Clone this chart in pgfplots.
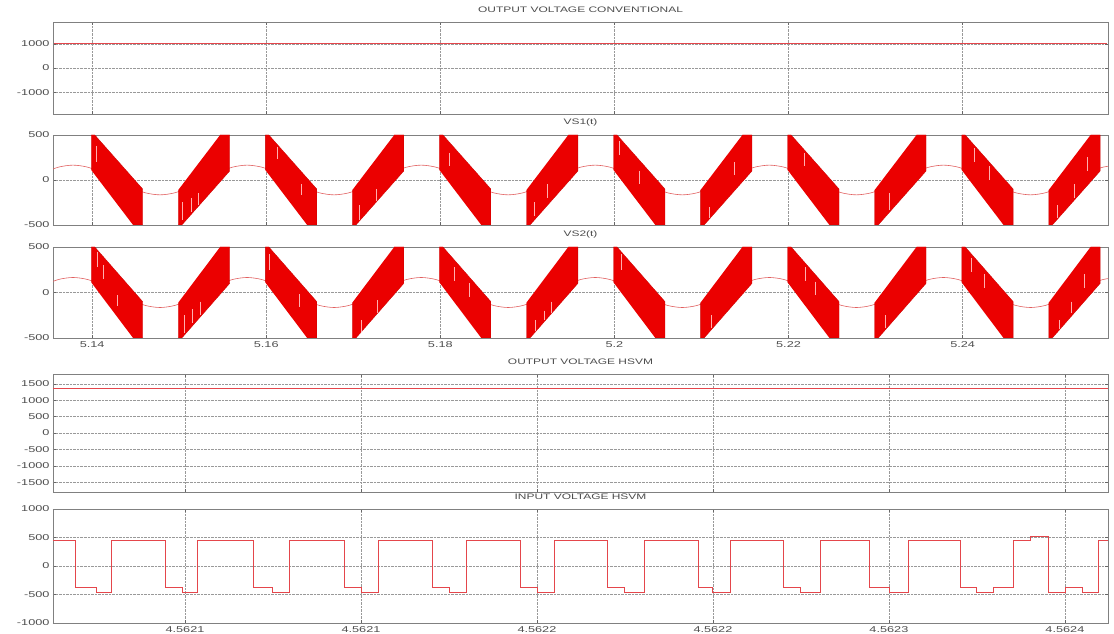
\documentclass[border=0pt]{standalone}
\usepackage{fontspec}
\setmainfont{Liberation Sans}[FakeStretch=1.5]
\usepackage{pgfplots}
\usepackage{pgfplotstable}
\pgfplotsset{compat=1.18}

\definecolor{bandred}{RGB}{235,0,0}
\definecolor{sinered}{RGB}{225,95,95}
\definecolor{linered}{RGB}{228,70,75}
\definecolor{streak}{RGB}{255,175,175}

% sinusoid reference (amplitude ~165, period 0.02 s)
\pgfplotstableread{
t v
5.13447 82.5
5.13613 142.9
5.13780 165
5.13947 142.9
5.14113 82.5
5.14280 0
5.14447 -82.5
5.14613 -142.9
5.14780 -165
5.14947 -142.9
5.15113 -82.5
5.15280 0
5.15447 82.5
5.15613 142.9
5.15780 165
5.15947 142.9
5.16113 82.5
5.16280 0
5.16447 -82.5
5.16613 -142.9
5.16780 -165
5.16947 -142.9
5.17113 -82.5
5.17280 0
5.17447 82.5
5.17613 142.9
5.17780 165
5.17947 142.9
5.18113 82.5
5.18280 0
5.18447 -82.5
5.18613 -142.9
5.18780 -165
5.18947 -142.9
5.19113 -82.5
5.19280 0
5.19447 82.5
5.19613 142.9
5.19780 165
5.19947 142.9
5.20113 82.5
5.20280 0
5.20447 -82.5
5.20613 -142.9
5.20780 -165
5.20947 -142.9
5.21113 -82.5
5.21280 0
5.21447 82.5
5.21613 142.9
5.21780 165
5.21947 142.9
5.22113 82.5
5.22280 0
5.22447 -82.5
5.22613 -142.9
5.22780 -165
5.22947 -142.9
5.23113 -82.5
5.23280 0
5.23447 82.5
5.23613 142.9
5.23780 165
5.23947 142.9
5.24113 82.5
5.24280 0
5.24447 -82.5
5.24613 -142.9
5.24780 -165
5.24947 -142.9
5.25113 -82.5
5.25280 0
5.25447 82.5
5.25613 142.9
5.25780 165
}\sinetab

% PWM switching bands (outline of the filled envelopes)
\pgfplotstableread{
t v
5.13990 110
5.13990 500
5.14030 500
5.14580 -100
5.14580 -500
5.14470 -500
nan nan
5.14990 -110
5.14990 -500
5.15030 -500
5.15580 100
5.15580 500
5.15470 500
nan nan
5.15990 110
5.15990 500
5.16030 500
5.16580 -100
5.16580 -500
5.16470 -500
nan nan
5.16990 -110
5.16990 -500
5.17030 -500
5.17580 100
5.17580 500
5.17470 500
nan nan
5.17990 110
5.17990 500
5.18030 500
5.18580 -100
5.18580 -500
5.18470 -500
nan nan
5.18990 -110
5.18990 -500
5.19030 -500
5.19580 100
5.19580 500
5.19470 500
nan nan
5.19990 110
5.19990 500
5.20030 500
5.20580 -100
5.20580 -500
5.20470 -500
nan nan
5.20990 -110
5.20990 -500
5.21030 -500
5.21580 100
5.21580 500
5.21470 500
nan nan
5.21990 110
5.21990 500
5.22030 500
5.22580 -100
5.22580 -500
5.22470 -500
nan nan
5.22990 -110
5.22990 -500
5.23030 -500
5.23580 100
5.23580 500
5.23470 500
nan nan
5.23990 110
5.23990 500
5.24030 500
5.24580 -100
5.24580 -500
5.24470 -500
nan nan
5.24990 -110
5.24990 -500
5.25030 -500
5.25580 100
5.25580 500
5.25470 500
}\bandtab

\pgfplotstableread{
t v
5.14046 380
5.14046 200
nan nan
5.15034 -250
5.15034 -450
nan nan
5.15138 -200
5.15138 -360
nan nan
5.15218 -150
5.15218 -280
nan nan
5.16126 370
5.16126 230
nan nan
5.16402 -50
5.16402 -170
nan nan
5.17069 -280
5.17069 -440
nan nan
5.17264 -100
5.17264 -230
nan nan
5.18103 300
5.18103 150
nan nan
5.19080 -250
5.19080 -400
nan nan
5.19230 -50
5.19230 -200
nan nan
5.20057 430
5.20057 280
nan nan
5.20287 100
5.20287 -50
nan nan
5.21092 -300
5.21092 -420
nan nan
5.21379 200
5.21379 50
nan nan
5.22184 300
5.22184 150
nan nan
5.23161 -150
5.23161 -330
nan nan
5.24138 350
5.24138 200
nan nan
5.24310 150
5.24310 0
nan nan
5.25092 -280
5.25092 -420
nan nan
5.25287 -50
5.25287 -200
nan nan
5.25437 250
5.25437 100
}\streakA

\pgfplotstableread{
t v
5.14057 440
5.14057 280
nan nan
5.14126 300
5.14126 150
nan nan
5.14287 -30
5.14287 -150
nan nan
5.15057 -250
5.15057 -440
nan nan
5.15149 -180
5.15149 -340
nan nan
5.15241 -100
5.15241 -250
nan nan
5.16034 420
5.16034 250
nan nan
5.16379 -20
5.16379 -160
nan nan
5.17092 -300
5.17092 -430
nan nan
5.17276 -80
5.17276 -230
nan nan
5.18161 280
5.18161 130
nan nan
5.18333 100
5.18333 -50
nan nan
5.19092 -300
5.19092 -420
nan nan
5.19195 -200
5.19195 -300
nan nan
5.19276 -100
5.19276 -220
nan nan
5.20080 420
5.20080 250
nan nan
5.21115 -250
5.21115 -390
nan nan
5.22195 280
5.22195 130
nan nan
5.22310 120
5.22310 -30
nan nan
5.23115 -250
5.23115 -390
nan nan
5.24103 380
5.24103 230
nan nan
5.24253 200
5.24253 50
nan nan
5.25115 -300
5.25115 -400
nan nan
5.25253 -100
5.25253 -230
nan nan
5.25402 200
5.25402 50
}\streakB

\pgfplotsset{
  base/.style={
    scale only axis, width=1055bp, anchor=south west,
    axis line style={black!50, line width=0.7pt},
    every tick/.style={black!60, line width=0.5pt},
    tick align=inside, major tick length=3bp,
    xmajorgrids, ymajorgrids,
    major grid style={densely dotted, black!40, line width=0.5pt},
    tick label style={font=\fontsize{8.5}{10}\selectfont, text=black!70},
    title style={font=\fontsize{8}{9}\selectfont, text=black!70, inner sep=1.5bp, yshift=1.5bp},
    /pgf/number format/assume math mode=true,
  },
  topx/.style={base, xmin=5.1355, xmax=5.2567,
    xtick={5.14,5.16,5.18,5.2,5.22,5.24}},
  botx/.style={base, xmin=5, xmax=364.7,
    xtick={50,110,170,230,290,350}},
}

\begin{document}
\begin{tikzpicture}
\useasboundingbox (0,0) rectangle (1114bp,634bp);
\path[draw=white, line width=0.1pt] (0,0) -- (0.1bp,0);

% 4: output voltage HSVM
\begin{axis}[botx, at={(53bp,142bp)}, height=118bp,
  ymin=-1800, ymax=1800, ytick={-1500,-1000,-500,0,500,1000,1500},
  yticklabels={-1500,-1000,-500,0,500,1000,1500},
  xticklabels={}, title={OUTPUT VOLTAGE HSVM}]
\addplot[linered, line width=0.9pt] coordinates {(5,1350) (364.7,1350)};
\end{axis}

% 5: input voltage HSVM
\begin{axis}[botx, at={(53bp,11bp)}, height=114bp,
  ymin=-1000, ymax=1000, ytick={-1000,-500,0,500,1000},
  yticklabels={-1000,-500,0,500,1000},
  xticklabels={4.5621,4.5621,4.5622,4.5622,4.5623,4.5624},
  title={INPUT VOLTAGE HSVM}]
\addplot[linered, line width=0.9pt, const plot] coordinates {
(5,450) (12.5,-380) (19.7,-460) (24.8,450) (43.2,-380) (49.0,-460)
(54.4,450) (73.5,-380) (79.7,-460) (85.5,450) (104.2,-380) (110.0,-460)
(115.8,450) (134.2,-380) (140.0,-460) (146.1,450) (164.5,-380) (170.0,-460)
(176.1,450) (193.9,-380) (199.7,-460) (206.5,450) (224.9,-380) (230.0,-460)
(236.1,450) (253.9,-380) (259.7,-460) (266.8,450) (283.5,-380) (290.3,-460)
(296.5,450) (314.5,-380) (320.0,-460) (325.5,-380) (332.3,450) (338.4,520)
(344.5,-460) (350.3,-380) (356.1,-460) (361.6,450) (364.7,450)};
\end{axis}

% 2: VS1(t)
\begin{axis}[topx, at={(53bp,409bp)}, height=90bp,
  ymin=-500, ymax=500, ytick={-500,0,500}, yticklabels={-500,0,500},
  xticklabels={}, title={VS1(t)}]
\addplot[sinered, line width=0.6pt, smooth] table {\sinetab};
\addplot[draw=bandred!85!black, fill=bandred, line width=0.3pt, unbounded coords=jump] table {\bandtab};
\addplot[streak, line width=1.1pt, unbounded coords=jump] table {\streakA};
\end{axis}

% 3: VS2(t)
\begin{axis}[topx, at={(53bp,296bp)}, height=91bp,
  ymin=-500, ymax=500, ytick={-500,0,500}, yticklabels={-500,0,500},
  xticklabels={5.14,5.16,5.18,5.2,5.22,5.24}, title={VS2(t)}]
\addplot[sinered, line width=0.6pt, smooth] table {\sinetab};
\addplot[draw=bandred!85!black, fill=bandred, line width=0.3pt, unbounded coords=jump] table {\bandtab};
\addplot[streak, line width=1.1pt, unbounded coords=jump] table {\streakB};
\end{axis}

% 1: output voltage conventional
\begin{axis}[topx, at={(53bp,520bp)}, height=92bp,
  ymin=-1900, ymax=1900, ytick={-1000,0,1000}, yticklabels={-1000,0,1000},
  xticklabels={}, title={OUTPUT VOLTAGE CONVENTIONAL}]
\addplot[linered, line width=1.0pt] coordinates {(5.1356,1000) (5.2566,1000)};
\end{axis}
\end{tikzpicture}
\end{document}
